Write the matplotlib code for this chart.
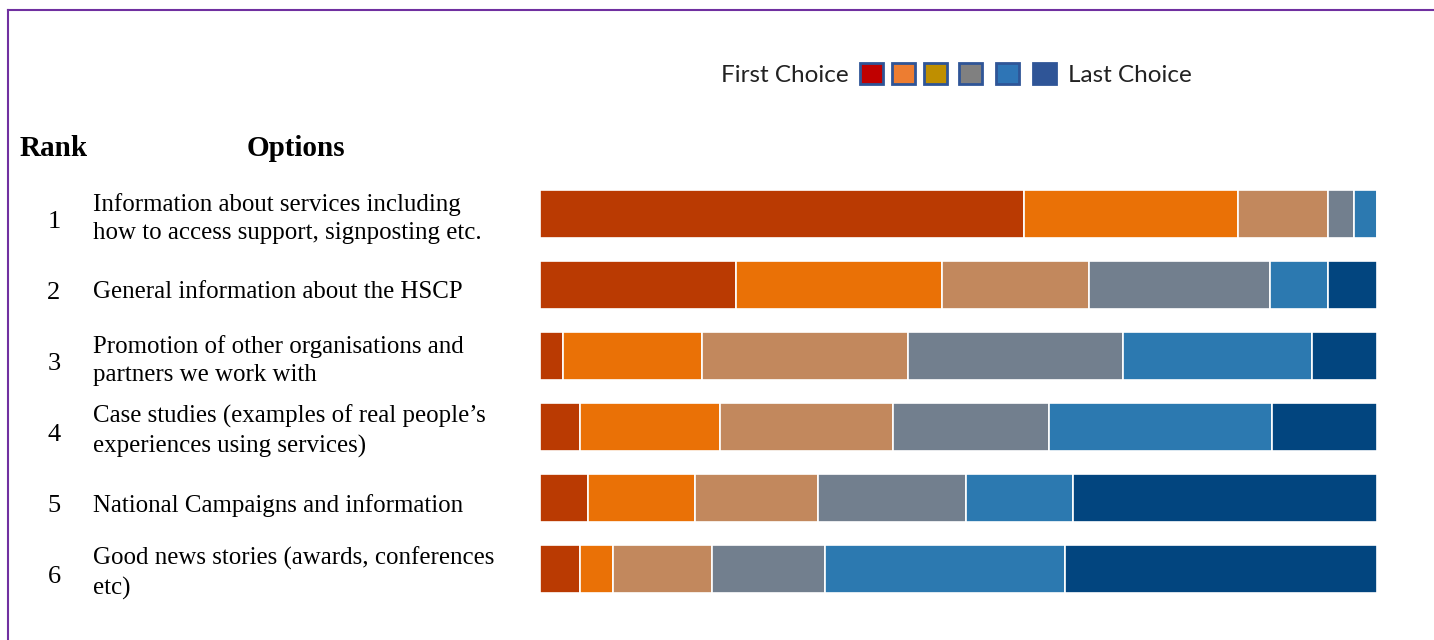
import matplotlib.pyplot as plt
from matplotlib.patches import Rectangle
from matplotlib.lines import Line2D
from matplotlib.transforms import blended_transform_factory

# ranking data (share of responses, %), first choice -> last choice
ranks = [1, 2, 3, 4, 5, 6]
options = [
    "Information about services including\nhow to access support, signposting etc.",
    "General information about the HSCP",
    "Promotion of other organisations and\npartners we work with",
    "Case studies (examples of real people\u2019s\nexperiences using services)",
    "National Campaigns and information",
    "Good news stories (awards, conferences\netc)",
]
choice1 = [57.8, 23.4, 2.7, 4.8, 5.7, 4.8]
choice2 = [25.6, 24.6, 16.7, 16.7, 12.8, 3.9]
choice3 = [10.8, 17.6, 24.6, 20.7, 14.7, 11.8]
choice4 = [3.0, 21.6, 25.6, 18.6, 17.7, 13.6]
choice5 = [2.8, 7.0, 22.6, 26.6, 12.8, 28.6]
choice6 = [0.0, 5.8, 7.8, 12.6, 36.3, 37.3]

bar_colors = ["#BA3A02", "#EA7106", "#C2885D", "#727F8E", "#2C79B0", "#02457F"]
legend_colors = ["#C00000", "#ED7D31", "#BF8F00", "#808080", "#2E75B6", "#2F5597"]

W, H = 1434, 640
fig = plt.figure(figsize=(W / 100, H / 100), dpi=100)

# bar area
ax = fig.add_axes([540 / W, 1 - 604.5 / H, 837 / W, 426 / H])
series = [choice1, choice2, choice3, choice4, choice5, choice6]
left = [0.0] * len(ranks)
for vals, col in zip(series, bar_colors):
    ax.barh(range(len(ranks)), vals, left=left, height=0.68, color=col,
            edgecolor="white", linewidth=1.2)
    left = [l + v for l, v in zip(left, vals)]
ax.set_xlim(0, 100)
ax.set_ylim(5.5, -0.5)
ax.axis("off")

# rank / option labels
tr = blended_transform_factory(fig.transFigure, ax.transData)
serif = "Liberation Serif"
fig.text(20 / W, 1 - 148 / H, "Rank", family=serif, weight="bold",
         fontsize=21, va="center")
fig.text(296 / W, 1 - 148 / H, "Options", family=serif, weight="bold",
         fontsize=21, va="center", ha="center")
for i, (r, opt) in enumerate(zip(ranks, options)):
    fig.text(54 / W, i + 0.11, str(r), transform=tr, family=serif,
             fontsize=19, ha="center", va="center")
    off = 0.1 if "\n" not in opt else 0.06
    fig.text(93 / W, i + off, opt, transform=tr, family=serif,
             fontsize=17.9, ha="left", va="center", linespacing=1.35)

# legend
lx = [860, 892, 924, 959, 996, 1033]
for x, c in zip(lx, legend_colors):
    fig.patches.append(Rectangle((x / W, 1 - 84 / H), 23 / W, 21 / H,
                                 transform=fig.transFigure, facecolor=c,
                                 edgecolor="#2F5597", linewidth=2))
fig.text(849 / W, 1 - 75.5 / H, "First Choice", family="Lato", fontsize=17.5,
         ha="right", va="center", color="#222222")
fig.text(1068 / W, 1 - 75.5 / H, "Last Choice", family="Lato", fontsize=17.5,
         ha="left", va="center", color="#222222")

# frame
fig.lines.append(Line2D([7.5 / W, 7.5 / W], [0, 1 - 10 / H],
                        transform=fig.transFigure, color="#7030A0", linewidth=1.5))
fig.lines.append(Line2D([7.5 / W, 1], [1 - 10 / H, 1 - 10 / H],
                        transform=fig.transFigure, color="#7030A0", linewidth=1.5))

fig.savefig("out.png", dpi=100)
